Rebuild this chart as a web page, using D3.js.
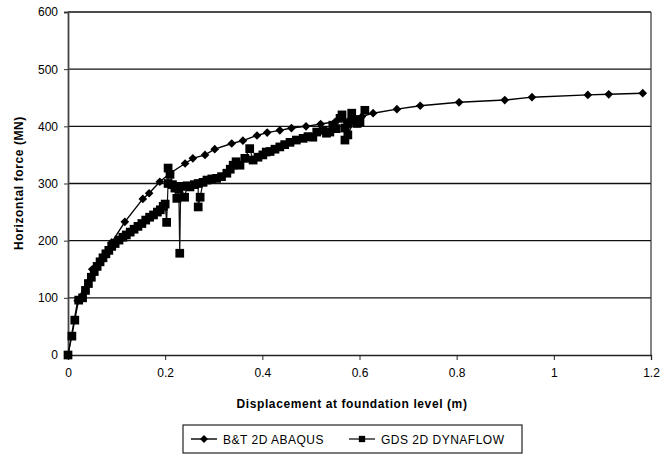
<!DOCTYPE html>
<html>
<head>
<meta charset="utf-8">
<script src="https://cdn.jsdelivr.net/npm/d3@7"></script>
<style>
  body { margin: 0; background: #fff; }
  svg text { font-family: "Liberation Sans", Arial, sans-serif; fill: #000; }
</style>
</head>
<body>
<svg id="chart" width="672" height="460"></svg>
<script>
// B&T 2D ABAQUS (diamonds)
const abaqusX = [0, 0.02, 0.05, 0.09, 0.117, 0.154, 0.167, 0.189, 0.21, 0.241, 0.257, 0.282, 0.302, 0.337, 0.36,
    0.389, 0.41, 0.436, 0.46, 0.49, 0.52, 0.55, 0.58, 0.605, 0.628, 0.677, 0.725, 0.805, 0.899, 0.955, 1.07, 1.113, 1.183]
const abaqusY = [0, 95, 150, 197, 233, 273, 283, 303, 318, 335, 344, 350, 360, 370, 375,
    384, 389, 393, 397, 400, 404, 408, 412, 417, 423, 430, 436, 442, 446, 451, 455, 456, 458]

// GDS 2D DYNAFLOW (squares)
const gdsX = [0, 0.008, 0.014, 0.022, 0.03, 0.036, 0.042, 0.048, 0.054, 0.06, 0.066, 0.072, 0.078, 0.084, 0.09,
    0.097, 0.105, 0.113, 0.12, 0.128, 0.136, 0.144, 0.152, 0.16, 0.168, 0.176, 0.184, 0.19, 0.196, 0.2,
    0.203, 0.206, 0.206, 0.21, 0.215, 0.22, 0.224, 0.228, 0.23, 0.232, 0.24, 0.245, 0.251, 0.26, 0.268,
    0.268, 0.272, 0.278, 0.286, 0.296, 0.306, 0.316, 0.327, 0.334, 0.34, 0.346, 0.354, 0.364, 0.374, 0.381,
    0.391, 0.401, 0.408, 0.416, 0.426, 0.436, 0.446, 0.457, 0.47, 0.484, 0.494, 0.504, 0.512, 0.525, 0.532,
    0.539, 0.545, 0.552, 0.56, 0.564, 0.57, 0.57, 0.576, 0.584, 0.576, 0.59, 0.595, 0.601, 0.611]
const gdsY = [0, 33, 61, 96, 100, 113, 125, 136, 146, 155, 163, 170, 177, 183, 190,
    195, 201, 206, 210, 215, 220, 225, 230, 236, 241, 245, 250, 254, 260, 264,
    232, 300, 327, 316, 298, 292, 274, 290, 178, 295, 276, 296, 294, 298, 300,
    259, 276, 302, 306, 308, 309, 312, 318, 325, 332, 338, 332, 344, 361, 341,
    346, 350, 355, 356, 360, 364, 368, 372, 376, 379, 382, 381, 390, 393, 388,
    390, 402, 396, 414, 420, 397, 376, 405, 423, 385, 412, 405, 407, 428]

const xTicks = [0, 0.2, 0.4, 0.6, 0.8, 1, 1.2]
const yTicks = [0, 100, 200, 300, 400, 500, 600]

const margin = { left: 68, right: 21, top: 12, bottom: 105 }
const size = { width: 672 - margin.left - margin.right, height: 460 - margin.top - margin.bottom }

const svg = d3.select('#chart')
const g = svg.append('g').attr('transform', `translate(${margin.left},${margin.top})`)

const x = d3.scaleLinear().domain([0, 1.2]).range([0, size.width])
const y = d3.scaleLinear().domain([0, 600]).range([size.height, 0])

// gridlines
g.append('g')
    .selectAll('line')
    .data(yTicks.filter(d => d > 0))
    .enter()
        .append('line')
        .attr('x1', 0).attr('x2', size.width)
        .attr('y1', d => y(d)).attr('y2', d => y(d))
        .style('stroke', '#111')
        .style('stroke-width', 1.3)

// right border
g.append('line')
    .attr('x1', size.width).attr('x2', size.width)
    .attr('y1', 0).attr('y2', size.height)
    .style('stroke', '#333').style('stroke-width', 1.2)

const xAxis = g.append('g')
    .attr('transform', `translate(0,${size.height})`)
    .call(d3.axisBottom(x).tickValues(xTicks).tickSize(5).tickFormat(d => d === 0 || d === 1 ? d : d3.format('.1f')(d)))
xAxis.select('.domain').style('stroke', '#222').style('stroke-width', 1.3)
xAxis.selectAll('.tick line').style('stroke', '#222')
xAxis.selectAll('.tick text').attr('y', 13).attr('dy', '0.71em').style('font-size', '12px')

const yAxis = g.append('g')
    .call(d3.axisLeft(y).tickValues(yTicks).tickSize(4).tickFormat(d3.format('d')))
yAxis.select('.domain').style('stroke', '#444').style('stroke-width', 1.8)
yAxis.selectAll('.tick line').style('stroke', '#333')
yAxis.selectAll('.tick text').attr('x', -10).style('font-size', '12px')

// axis titles
svg.append('text')
    .attr('x', 352).attr('y', 408)
    .attr('text-anchor', 'middle')
    .style('font-size', '12px').style('font-weight', 'bold').style('letter-spacing', '0.6px')
    .text('Displacement at foundation level (m)')

svg.append('text')
    .attr('transform', 'translate(23,183) rotate(-90)')
    .attr('text-anchor', 'middle')
    .style('font-size', '12px').style('font-weight', 'bold').style('letter-spacing', '0.6px')
    .text('Horizontal force (MN)')

const abaqus = abaqusX.map((d, i) => ({ x: d, y: abaqusY[i] }))
const gds = gdsX.map((d, i) => ({ x: d, y: gdsY[i] }))

const line = d3.line()
    .x(d => x(d.x))
    .y(d => y(d.y))

g.append('path')
    .attr('d', line(gds))
    .style('fill', 'none').style('stroke', '#111').style('stroke-width', 1.2)

g.append('path')
    .attr('d', line(abaqus))
    .style('fill', 'none').style('stroke', '#000').style('stroke-width', 1.4)

const diamond = d3.symbol().type(d3.symbolDiamond2).size(48)
const square = d3.symbol().type(d3.symbolSquare).size(76)

g.selectAll('.gds')
    .data(gds)
    .enter()
        .append('path')
        .attr('class', 'gds')
        .attr('transform', d => `translate(${x(d.x)},${y(d.y)})`)
        .attr('d', square)
        .style('fill', '#000')

g.selectAll('.abq')
    .data(abaqus)
    .enter()
        .append('path')
        .attr('class', 'abq')
        .attr('transform', d => `translate(${x(d.x)},${y(d.y)})`)
        .attr('d', diamond)
        .style('fill', '#000')

// legend
const legend = svg.append('g').attr('transform', 'translate(183,425)')
legend.append('rect')
    .attr('width', 339).attr('height', 28)
    .style('fill', '#fff').style('stroke', '#222').style('stroke-width', 1.2)

legend.append('line').attr('x1', 8).attr('x2', 34).attr('y1', 14).attr('y2', 14).style('stroke', '#000').style('stroke-width', 1.4)
legend.append('path').attr('transform', 'translate(21,14)').attr('d', d3.symbol().type(d3.symbolDiamond2).size(40)).style('fill', '#000')
legend.append('text').attr('x', 40).attr('y', 18.5).style('font-size', '12px').style('letter-spacing', '0.5px').text('B&T 2D ABAQUS')

legend.append('line').attr('x1', 166).attr('x2', 192).attr('y1', 14).attr('y2', 14).style('stroke', '#000').style('stroke-width', 1.2)
legend.append('path').attr('transform', 'translate(179,14)').attr('d', d3.symbol().type(d3.symbolSquare).size(40)).style('fill', '#000')
legend.append('text').attr('x', 198).attr('y', 18.5).style('font-size', '12px').style('letter-spacing', '0.5px').text('GDS 2D DYNAFLOW')
</script>
</body>
</html>
